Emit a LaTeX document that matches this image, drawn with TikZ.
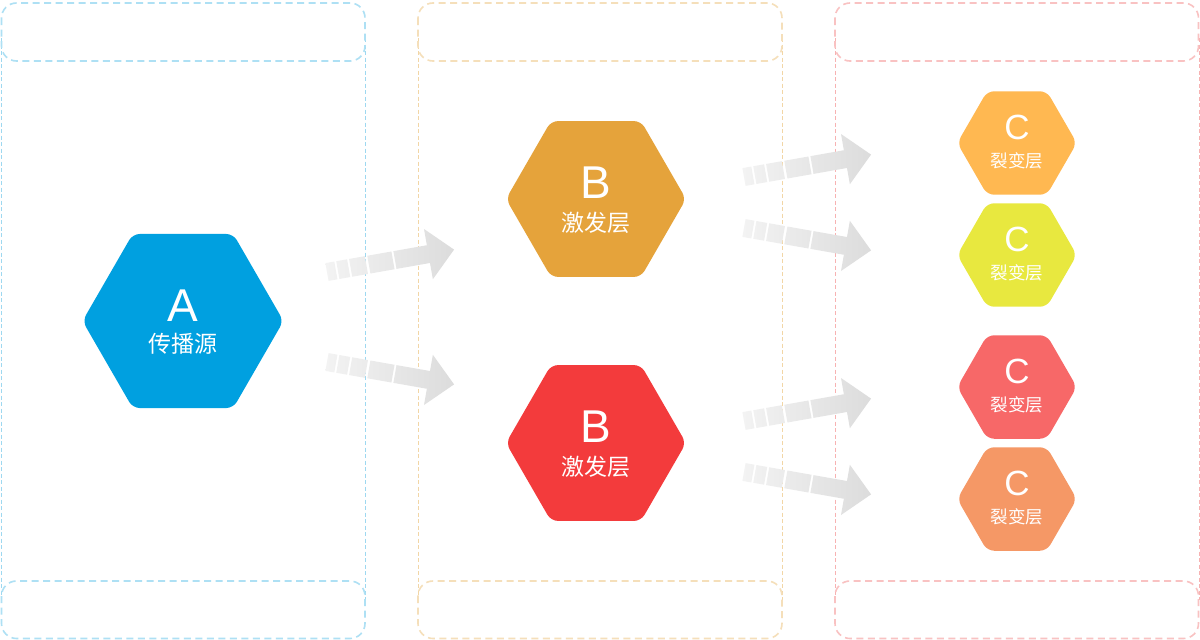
\documentclass[tikz,border=0pt]{standalone}
\usepackage{fontspec}
\setmainfont{Liberation Sans}
\newfontfamily\cjk{Noto Sans CJK SC}
\usetikzlibrary{shapes.geometric}
\definecolor{blueB}{HTML}{AEE0F4}
\definecolor{peachB}{HTML}{F5DFBA}
\definecolor{pinkB}{HTML}{F9C2C2}
\definecolor{blueT}{HTML}{9ED8F0}
\definecolor{peachT}{HTML}{F2D6A6}
\definecolor{pinkT}{HTML}{F7B2B2}
\definecolor{hexA}{HTML}{00A0E0}
\definecolor{hexB1}{HTML}{E5A33B}
\definecolor{hexB2}{HTML}{F33B3C}
\definecolor{hexC1}{HTML}{FFB851}
\definecolor{hexC2}{HTML}{E8E83F}
\definecolor{hexC3}{HTML}{F76868}
\definecolor{hexC4}{HTML}{F59866}
\definecolor{arrL}{HTML}{F3F3F3}
\definecolor{arrR}{HTML}{DCDCDC}
\begin{document}
\begin{tikzpicture}[x=1pt,y=-1pt,
  hexa/.style={regular polygon, regular polygon sides=6, inner sep=0pt, outer sep=0pt, rounded corners=7pt, draw=none},
  colbox/.style={line width=1.6pt, dash pattern=on 7pt off 4.5pt, rounded corners=15pt},
  thinl/.style={line width=1pt, dash pattern=on 4pt off 2.5pt},
  bigL/.style={text=white, inner sep=0pt, font=\fontsize{46}{46}\selectfont},
  bigT/.style={text=white, inner sep=0pt, font=\fontsize{23}{23}\selectfont\cjk},
  smallL/.style={text=white, inner sep=0pt, font=\fontsize{35}{35}\selectfont},
  smallT/.style={text=white, inner sep=0pt, font=\fontsize{17.5}{17.5}\selectfont\cjk},
  blockarrow/.pic={
    \path[left color=arrL, right color=arrR]
      (0,-9) rectangle (9,9)
      (11,-9) rectangle (22,9)
      (24,-9) rectangle (40,9)
      (42.5,-9) rectangle (67,9)
      (69,-9) -- (103,-9) -- (103,-25.5) -- (129,0) -- (103,25.5) -- (103,9) -- (69,9) -- cycle;
  }]
\useasboundingbox (0,0) rectangle (1200,640);
\fill[white] (0,0) rectangle (1200,640);

% column frames
\draw[thinl, draw=blueT] (1,38) -- (1,600);
\draw[thinl, draw=blueT] (365,38) -- (365,600);
\draw[thinl, draw=peachT] (418,38) -- (418,600);
\draw[thinl, draw=peachT] (782,38) -- (782,600);
\draw[thinl, draw=pinkT] (835,38) -- (835,600);
\draw[thinl, draw=pinkT] (1199,38) -- (1199,600);

\draw[colbox, draw=blueB] (1.5,3) rectangle (365,61);
\draw[colbox, draw=blueB] (1.5,581) rectangle (365,638.5);
\draw[colbox, draw=peachB] (418,3) rectangle (782,61);
\draw[colbox, draw=peachB] (418,581) rectangle (782,638.5);
\draw[colbox, draw=pinkB] (835,3) rectangle (1198.5,61);
\draw[colbox, draw=pinkB] (835,581) rectangle (1198.5,638.5);

% hexagons
\node[hexa, fill=hexA, minimum size=201pt] (A) at (183,321) {};
\node[bigL] (Al) at (183,306) {A};
\node[bigT] (At) at (183,344) {传播源};

\node[hexa, fill=hexB1, minimum size=180pt] (B1) at (596,199) {};
\node[bigL] (B1l) at (596,182.5) {B};
\node[bigT] (B1t) at (596,222.5) {激发层};

\node[hexa, fill=hexB2, minimum size=180pt] (B2) at (596,443) {};
\node[bigL] (B2l) at (596,426.5) {B};
\node[bigT] (B2t) at (596,466.5) {激发层};

\node[hexa, fill=hexC1, minimum size=119.5pt] (C1) at (1017,143) {};
\node[smallL] (C1l) at (1017,127.5) {C};
\node[smallT] (C1t) at (1017,161) {裂变层};

\node[hexa, fill=hexC2, minimum size=119.5pt] (C2) at (1017,255) {};
\node[smallL] (C2l) at (1017,239.5) {C};
\node[smallT] (C2t) at (1017,273) {裂变层};

\node[hexa, fill=hexC3, minimum size=119.5pt] (C3) at (1017,387) {};
\node[smallL] (C3l) at (1017,371.5) {C};
\node[smallT] (C3t) at (1017,405) {裂变层};

\node[hexa, fill=hexC4, minimum size=119.5pt] (C4) at (1017,499) {};
\node[smallL] (C4l) at (1017,483.5) {C};
\node[smallT] (C4t) at (1017,517) {裂变层};

% block arrows
\coordinate (tA1) at (327,272);
\coordinate (tA2) at (327,362);
\coordinate (tB1) at (744,177);
\coordinate (tB2) at (744,228);
\coordinate (tB3) at (744,421);
\coordinate (tB4) at (744,472);
\pic[rotate=10] at (tA1) {blockarrow};
\pic[rotate=-10] at (tA2) {blockarrow};
\pic[rotate=10] at (tB1) {blockarrow};
\pic[rotate=-10] at (tB2) {blockarrow};
\pic[rotate=10] at (tB3) {blockarrow};
\pic[rotate=-10] at (tB4) {blockarrow};
\end{tikzpicture}
\end{document}
